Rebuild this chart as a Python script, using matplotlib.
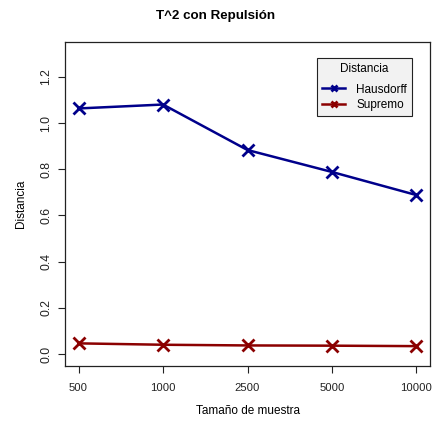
import matplotlib
matplotlib.use("Agg")
import matplotlib.pyplot as plt

plt.rcParams['font.family'] = ['Liberation Sans', 'DejaVu Sans']

categories = ["500", "1000", "2500", "5000", "10000"]
hausdorff = [1.063, 1.080, 0.883, 0.788, 0.688]
supremo = [0.046, 0.040, 0.037, 0.036, 0.034]
yticks = [0.0, 0.2, 0.4, 0.6, 0.8, 1.0, 1.2]

fig = plt.figure(figsize=(4.32, 4.21), dpi=100)
ax = fig.add_axes([65/432, 1-366/421, 365/432, (366-41.7)/421])

x = list(range(1, len(categories)+1))
ax.plot(x, hausdorff, color='#00008B', lw=1.8, marker='x', ms=8, mew=2, label='Hausdorff')
ax.plot(x, supremo, color='#8B0000', lw=1.8, marker='x', ms=8, mew=2, label='Supremo')

ax.set_xlim(0.84, 5.16)
ax.set_ylim(-0.052, 1.352)
ax.set_xticks(x)
ax.set_xticklabels(categories)
ax.set_yticks(yticks)
ax.set_yticklabels([f"{v:.1f}" for v in yticks], rotation=90, va='center')
ax.tick_params(labelsize=8.7, length=5, width=0.8, colors='#222222')
ax.tick_params(axis='x', pad=7, labelsize=8.1)
ax.tick_params(axis='y', pad=4)
for s in ax.spines.values():
    s.set_linewidth(0.9)
    s.set_color('#222222')

ax.set_xlabel("Tamaño de muestra", fontsize=8.5, labelpad=9)
ax.set_ylabel("Distancia", fontsize=8.5, labelpad=10)
fig.suptitle("T^2 con Repulsión", fontsize=9.6, fontweight='bold', y=0.977)

leg = ax.legend(title="Distancia", loc='upper right', bbox_to_anchor=(0.951, 0.95),
                fontsize=8.5, title_fontsize=8.5, fancybox=False, framealpha=1,
                edgecolor='#222222', facecolor='#f2f2f2', handlelength=2.0,
                markerscale=0.6, borderpad=0.45, labelspacing=0.3, handletextpad=0.9,
                borderaxespad=0)
leg.get_frame().set_linewidth(0.8)
leg._legend_box.sep = 6

fig.savefig("out.png", dpi=100)
